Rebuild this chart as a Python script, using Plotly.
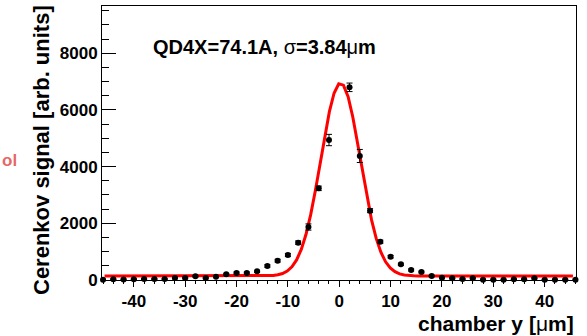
import numpy as np
import plotly.graph_objects as go

# ---- data ----
y_pos = [-46, -44, -42, -40, -38, -36, -34, -32, -30, -28, -26, -24, -22, -20,
         -18, -16, -14, -12, -10, -8, -6, -4, -2,
         2, 4, 6, 8, 10, 12, 14, 16, 18, 20, 22, 24, 26, 28, 30, 32, 34, 36,
         38, 40, 42, 44, 46]
signal = [10, 25, 15, 25, 35, 35, 35, 70, 70, 130, 70, 116, 200, 247,
          247, 306, 494, 682, 882, 1318, 1870, 3235, 4940,
          6800, 4377, 2447, 1352, 823, 553, 353, 282, 141, 82, 59, 35, 59, 12, 12, 5, 24, 24,
          59, 5, 5, 12, 12]
signal_err = [20, 20, 20, 20, 20, 20, 20, 25, 25, 30, 25, 30, 35, 35,
              35, 40, 45, 50, 55, 60, 110, 80, 200,
              150, 230, 70, 55, 45, 40, 35, 30, 25, 20, 20, 20, 20, 20, 20, 20, 20, 20,
              20, 20, 20, 20, 20]

# Gaussian fit parameters (constant, mean, sigma, baseline) and fit range
fit_params = {"const": 6810.0, "mean": 0.25, "sigma": 3.84, "base": 140.0}
fit_range = [-45.7, 45.5]
fit_npx = 101

x_ticks = [-40, -30, -20, -10, 0, 10, 20, 30, 40]
x_tick_text = ["-40", "-30", "-20", "-10", "0", "10", "20", "30", "40"]
y_ticks = [0, 2000, 4000, 6000, 8000]
y_tick_text = ["0", "2000", "4000", "6000", "8000"]

title_text = "<b>QD4X=74.1A, </b>σ<b>=3.84</b>μ<b>m</b>"
x_title = "<b>chamber y [</b>μ<b>m]</b>"
y_title = "<b>Cerenkov signal [arb. units]</b>"

# ---- figure ----
W, H = 587, 336
L, R, T, B = 102, 11, 6, 56
pw, ph = W - L - R, H - T - B


def px2paper_x(px):
    return (px - L) / pw


def px2paper_y(py):
    return (H - B - py) / ph


fx = np.linspace(fit_range[0], fit_range[1], fit_npx)
p = fit_params
fy = p["base"] + p["const"] * np.exp(-0.5 * ((fx - p["mean"]) / p["sigma"]) ** 2)

FONT = "Liberation Sans, Arial, Helvetica, sans-serif"

fig = go.Figure()
fig.add_trace(go.Scatter(
    x=fx, y=fy, mode="lines",
    line=dict(color="#ff0000", width=3),
    hoverinfo="skip", showlegend=False,
))
fig.add_trace(go.Scatter(
    x=y_pos, y=signal, mode="markers",
    marker=dict(color="black", size=6),
    error_y=dict(type="data", array=signal_err, visible=True,
                 color="black", thickness=1, width=3),
    cliponaxis=False, showlegend=False,
))

fig.update_layout(
    width=W, height=H,
    margin=dict(l=L, r=R, t=T, b=B),
    paper_bgcolor="white", plot_bgcolor="white",
    font=dict(family=FONT, color="black"),
)

fig.update_xaxes(
    range=[-46.2, 46.1],
    tickmode="array", tickvals=x_ticks, ticktext=x_tick_text,
    ticks="outside", ticklen=6, tickwidth=1, tickcolor="black",
    minor=dict(dtick=2, tick0=0, ticks="outside", ticklen=3,
               tickcolor="black", tickwidth=1, showgrid=False),
    tickfont=dict(size=17, family=FONT, weight="bold"),
    showline=True, linecolor="black", linewidth=1, mirror=True,
    showgrid=False, zeroline=False,
)
fig.update_yaxes(
    range=[0, 9670],
    tickmode="array", tickvals=y_ticks, ticktext=y_tick_text,
    ticks="inside", ticklen=14, tickwidth=1, tickcolor="black",
    minor=dict(dtick=500, tick0=0, ticks="inside", ticklen=7,
               tickcolor="black", tickwidth=1, showgrid=False),
    tickfont=dict(size=17, family=FONT, weight="bold"),
    showline=True, linecolor="black", linewidth=1, mirror=True,
    showgrid=False, zeroline=False,
)

fig.add_annotation(
    text=title_text, xref="paper", yref="paper",
    x=px2paper_x(151), y=px2paper_y(46.7), xanchor="left", yanchor="middle",
    showarrow=False, font=dict(size=20, family=FONT, color="black"),
)
fig.add_annotation(
    text=x_title, xref="paper", yref="paper",
    x=px2paper_x(576), y=px2paper_y(323), xanchor="right", yanchor="middle",
    showarrow=False, font=dict(size=21, family=FONT, color="black"),
)
fig.add_annotation(
    text=y_title, xref="paper", yref="paper", textangle=-90,
    x=px2paper_x(41), y=px2paper_y(3), xanchor="center", yanchor="top",
    showarrow=False, font=dict(size=22, family=FONT, color="black"),
)
# fragment visible at the left edge of the reference
fig.add_annotation(
    text="<b>ol</b>", xref="paper", yref="paper",
    x=px2paper_x(0), y=px2paper_y(160), xanchor="left", yanchor="middle",
    showarrow=False, font=dict(size=17, family=FONT, color="rgba(225,60,60,0.8)"),
)

fig.write_html("out.html")
